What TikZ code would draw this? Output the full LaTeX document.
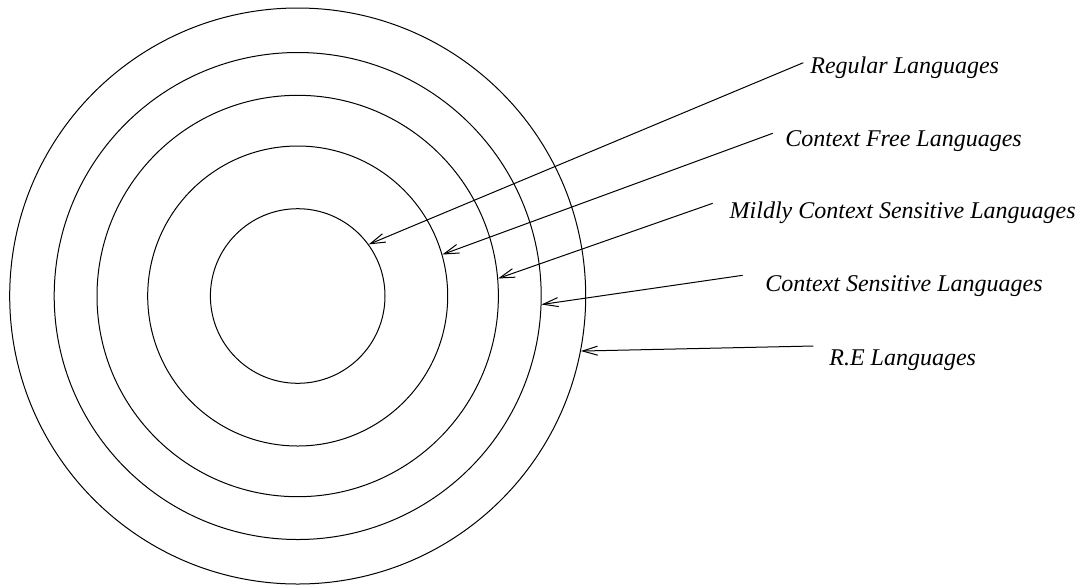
\documentclass[tikz,border=0pt]{standalone}
\usepackage{fontspec}
\setmainfont{Liberation Serif}
\usetikzlibrary{arrows.meta}
\tikzset{
    ring/.style = {
        circle, draw, inner sep=0pt,
        line width=0.5pt
    },
    lang/.style = {
        anchor=base west, inner sep=0pt,
        font=\fontsize{12}{14}\selectfont\itshape
    },
    arrow/.style = {
        -{Straight Barb[length=7.5pt, width=4.5pt]}, line width=0.5pt
    }
}
\begin{document}
\begin{tikzpicture}[x=0.5pt, y=-0.5pt]
\useasboundingbox (0,0) rectangle (1084,586);

% nested classes
\coordinate (o) at (297.7,296);
\node (reg) [ring, minimum size=87.3pt] at (o) {};
\node (cf)  [ring, minimum size=150pt] at (o) {};
\node (mcs) [ring, minimum size=200.7pt] at (o) {};
\node (cs)  [ring, minimum size=243.5pt] at (o) {};
\node (re)  [ring, minimum size=288pt] at (o) {};

% labels
\node (lreg) [lang] at (810,73.3) {Regular Languages};
\node (lcf)  [lang] at (785,146.7) {Context Free Languages};
\node (lmcs) [lang] at (729.3,218) {Mildly Context Sensitive Languages};
\node (lcs)  [lang] at (765,291.7) {Context Sensitive Languages};
\node (lre)  [lang] at (829,365) {R.E Languages};

\coordinate (sreg) at (803.3,62.7);
\coordinate (scf)  at (772.7,133.3);
\coordinate (smcs) at (712.7,203.3);
\coordinate (scs)  at (742.7,275.3);
\coordinate (sre)  at (813.3,346);

\draw [arrow] (sreg) -- (reg.36);
\draw [arrow] (scf) -- (cf.16);
\draw [arrow] (smcs) -- (mcs.5.7);
\draw [arrow] (scs) -- (cs.-2.5);
\draw [arrow] (sre) -- (re.-11.9);

\end{tikzpicture}
\end{document}
